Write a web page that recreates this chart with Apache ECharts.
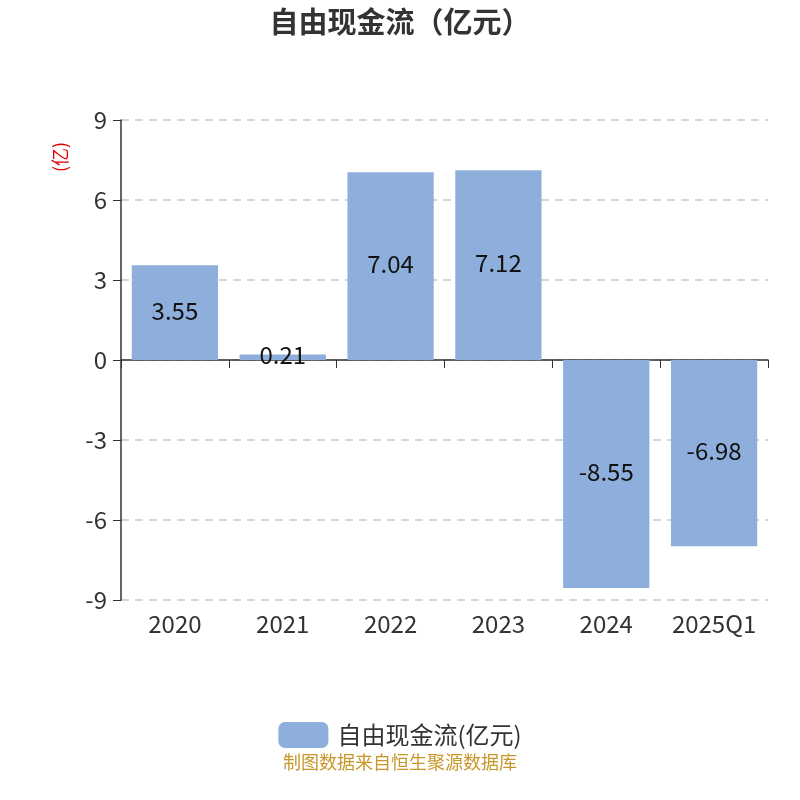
<!DOCTYPE html>
<html>
<head>
<meta charset="utf-8">
<script src="https://cdn.jsdelivr.net/npm/echarts@6/dist/echarts.min.js"></script>
<style>
  html, body { margin: 0; padding: 0; background: #fff; }
  #chart { width: 800px; height: 800px; }
</style>
</head>
<body>
<div id="chart"></div>
<script>
// free cash flow by year, 亿元
const categories = ["2020", "2021", "2022", "2023", "2024", "2025Q1"];
const values = [3.55, 0.21, 7.04, 7.12, -8.55, -6.98];
const yTicks = { min: -9, max: 9, interval: 3 };

const BAR = "#8eaedb";
const FONT = "'Noto Sans CJK SC', 'Noto Sans', sans-serif";

const chart = echarts.init(document.getElementById("chart"));

chart.setOption({
  animation: false,
  textStyle: { fontFamily: FONT },
  title: {
    text: "自由现金流（亿元）", left: "center", top: 2,
    textStyle: { fontFamily: FONT, fontSize: 29, fontWeight: "bold", color: "#333" },
  },
  grid: { left: 121, right: 32, top: 120, bottom: 200 },
  legend: {
    data: ["自由现金流(亿元)"], top: 722, left: "center", padding: 0,
    icon: "roundRect", itemWidth: 50, itemHeight: 26, itemGap: 10,
    textStyle: { fontFamily: FONT, fontSize: 24, color: "#333", padding: [0, 0, 0, 4] },
  },
  graphic: [
    { type: "text", left: "center", top: 753,
      style: { text: "制图数据来自恒生聚源数据库", fontFamily: FONT, fontSize: 18, fill: "#c9962b" } },
    // axis unit, reads bottom to top
    { type: "text", x: 51, y: 172, rotation: Math.PI / 2,
      style: { text: "(亿)", fontFamily: FONT, fontSize: 18, fill: "#e00000" } },
  ],
  xAxis: [
    // line + ticks sit on zero
    { type: "category", data: categories, axisLine: { onZero: true, lineStyle: { color: "#333", width: 1.5 } },
      axisTick: { show: true, length: 8, lineStyle: { color: "#333" } },
      axisLabel: { show: false } },
    // labels only, at the bottom
    { type: "category", data: categories, position: "bottom", offset: 0,
      axisLine: { show: false, onZero: false }, axisTick: { show: false },
      axisLabel: { fontFamily: FONT, fontSize: 24, color: "#333", margin: 12, interval: 0 } },
  ],
  yAxis: {
    type: "value", min: yTicks.min, max: yTicks.max, interval: yTicks.interval,
    axisLine: { show: true, lineStyle: { color: "#333", width: 1.5 } },
    axisTick: { show: true, length: 8, lineStyle: { color: "#333" } },
    axisLabel: { fontFamily: FONT, fontSize: 24, color: "#333", margin: 14 },
    splitLine: { lineStyle: { color: "#c8c8c8", type: [8, 6], width: 1.5 } },
  },
  series: [{
    name: "自由现金流(亿元)", type: "bar", data: values, xAxisIndex: 0,
    barCategoryGap: "20%",
    itemStyle: { color: BAR },
    label: { show: true, position: "inside", fontFamily: FONT, fontSize: 24, color: "#111",
      offset: [0, -2], formatter: (p) => p.value.toFixed(2) },
  }],
});
</script>
</body>
</html>
